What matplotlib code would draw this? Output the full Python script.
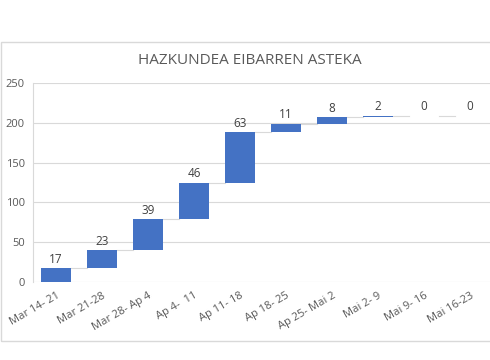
import numpy as np
import matplotlib
matplotlib.use("Agg")
import matplotlib.pyplot as plt
from matplotlib.patches import Rectangle

weeks = ["Mar 14- 21", "Mar 21-28", "Mar 28- Ap 4", "Ap 4-  11", "Ap 11- 18",
         "Ap 18- 25", "Ap 25- Mai 2", "Mai 2- 9", "Mai 9- 16", "Mai 16-23"]
growth = [17, 23, 39, 46, 63, 11, 8, 2, 0, 0]
yticks = [0, 50, 100, 150, 200, 250]

plt.rcParams['font.family'] = ['Open Sans', 'DejaVu Sans']

vals = np.array(growth)
top = np.cumsum(vals)
bottom = top - vals
x = np.arange(len(weeks))

fig = plt.figure(figsize=(4.9, 3.6), dpi=100)
# chart frame
fig.patches.append(Rectangle((1/490, 1-341/360), 491/490, 299/360, transform=fig.transFigure,
                             fill=False, edgecolor='#d9d9d9', lw=1))

ax = fig.add_axes([33/490, 1-282/360, 460/490, 199/360])
ax.bar(x, vals, bottom=bottom, width=0.65, color='#4472C4', zorder=3)

# connectors
for i in range(len(x)-1):
    ax.plot([x[i]+0.325, x[i+1]-0.325], [top[i], top[i]], color='#d9d9d9', lw=0.8, zorder=2)

for i in range(len(x)):
    ax.text(x[i], top[i]+3, str(vals[i]), ha='center', va='bottom', fontsize=8.5, color='#404040')

ax.set_xlim(-0.5, len(x)-0.5)
ax.set_ylim(0, 250)
ax.set_yticks(yticks)
ax.grid(axis='y', color='#d9d9d9', lw=0.8, zorder=0)
for s in ['top', 'right', 'bottom']:
    ax.spines[s].set_visible(False)
ax.spines['left'].set_color('#d9d9d9')
ax.tick_params(length=0, colors='#595959', labelsize=8)
ax.set_xticks(x)
ax.set_xticklabels(weeks, rotation=30, ha='right', rotation_mode='anchor')
ax.tick_params(axis='x', pad=6)
ax.tick_params(axis='y', pad=6)

fig.text(250/490, 1-61/360, "HAZKUNDEA EIBARREN ASTEKA", ha='center', va='center',
         fontsize=11, color='#595959')

fig.savefig("out.png", dpi=100)
